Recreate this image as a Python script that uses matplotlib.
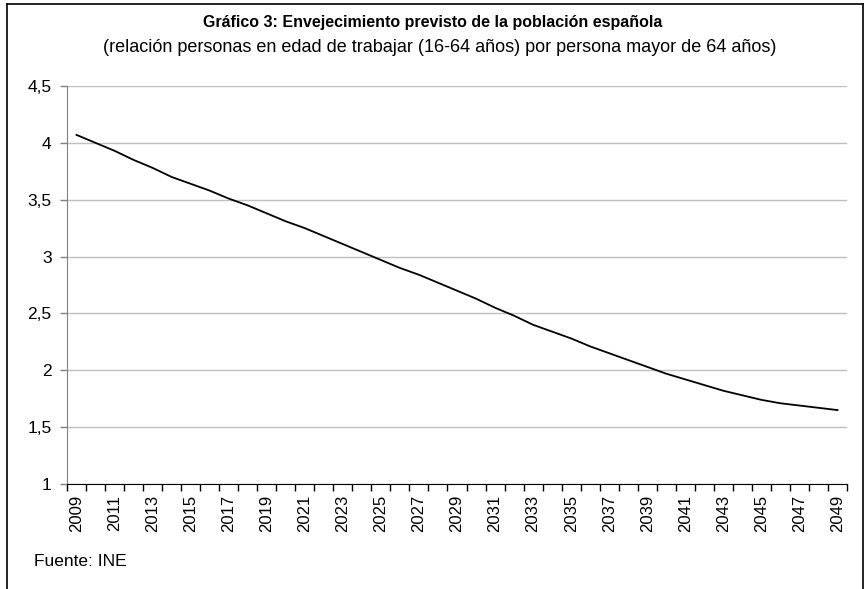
import matplotlib.pyplot as plt
from matplotlib.lines import Line2D
from matplotlib.ticker import FixedLocator, FuncFormatter

plt.rcParams['font.family'] = ['Liberation Sans', 'DejaVu Sans']

years = list(range(2009, 2050))
ratio = [4.07, 4.00, 3.93, 3.85, 3.78, 3.70, 3.64, 3.58, 3.51, 3.45,
         3.38, 3.31, 3.25, 3.18, 3.11, 3.04, 2.97, 2.90, 2.84, 2.77,
         2.70, 2.63, 2.55, 2.48, 2.40, 2.34, 2.28, 2.21, 2.15, 2.09,
         2.03, 1.97, 1.92, 1.87, 1.82, 1.78, 1.74, 1.71, 1.69, 1.67,
         1.65]
yticks = [1, 1.5, 2, 2.5, 3, 3.5, 4, 4.5]

W, H = 865, 589
fig = plt.figure(figsize=(W / 100, H / 100), dpi=100)
fig.patch.set_facecolor('white')

# plot area in pixel coords (left, top, right, bottom)
l, t, r, b = 67, 86, 847, 484
ax = fig.add_axes([l / W, 1 - b / H, (r - l) / W, (b - t) / H])

x = list(range(len(years)))
ax.plot(x, ratio, color='black', lw=1.3, zorder=3)

ax.set_xlim(-0.5, len(years) - 0.5)
ax.set_ylim(1, 4.5)

ax.set_yticks(yticks)
ax.yaxis.set_major_formatter(FuncFormatter(lambda v, p: f'{v:g}'.replace('.', ',')))
ax.grid(axis='y', color='#c0c0c0', lw=1)
ax.set_axisbelow(True)

ax.set_xticks(x[::2])
ax.set_xticklabels([str(y) for y in years[::2]], rotation=90)
ax.xaxis.set_minor_locator(FixedLocator([i - 0.5 for i in range(len(years) + 1)]))
ax.tick_params(axis='x', which='major', length=0, pad=8, labelsize=12)
ax.tick_params(axis='x', which='minor', length=5, width=1, color='black')
ax.tick_params(axis='y', length=5, width=1, color='#808080', labelsize=12.5, pad=6)

for s in ['top', 'right']:
    ax.spines[s].set_visible(False)
ax.spines['left'].set_color('#808080')
ax.spines['bottom'].set_color('black')

fig.text(0.5, 1 - 22 / H, 'Gráfico 3: Envejecimiento previsto de la población española',
         ha='center', va='center', fontsize=11.5, fontweight='bold')
fig.text(0.508, 1 - 47 / H,
         '(relación personas en edad de trabajar (16-64 años) por persona mayor de 64 años)',
         ha='center', va='center', fontsize=13)
fig.text(34 / W, 1 - 561 / H, 'Fuente: INE', ha='left', va='center', fontsize=12.5)

# chart frame (bottom edge cut off)
fx0, fx1, fy = 7 / W, 863 / W, 1 - 4 / H
for xs, ys in [([fx0, fx0], [0, fy]), ([fx0, fx1], [fy, fy]), ([fx1, fx1], [fy, 0])]:
    fig.add_artist(Line2D(xs, ys, color='black', lw=1.2))

fig.savefig('out.png', dpi=100)
